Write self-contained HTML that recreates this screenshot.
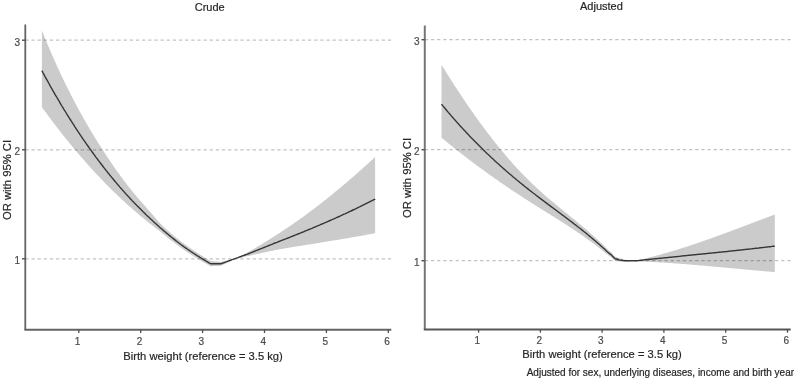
<!DOCTYPE html>
<html><head><meta charset="utf-8"><style>
html,body{margin:0;padding:0;background:#fff;}
body{width:797px;height:380px;position:relative;overflow:hidden;font-family:"Liberation Sans",sans-serif;}
#w{position:absolute;left:0;top:0;width:797px;height:380px;will-change:transform;}
#w div{-webkit-text-stroke:0.2px currentColor;}
svg{position:absolute;left:0;top:0;}
.t{position:absolute;white-space:nowrap;color:#262626;font-size:11px;line-height:12px;}
.yt{position:absolute;width:20px;text-align:right;color:#4a4a4a;font-size:10.0px;line-height:12px;}
.xt{position:absolute;width:20px;text-align:center;color:#4a4a4a;font-size:10.0px;line-height:12px;}
.yl{position:absolute;white-space:nowrap;color:#262626;font-size:11px;line-height:12px;transform-origin:0 0;transform:rotate(-90deg);}
</style></head><body><div id="w">
<svg width="797" height="380" viewBox="0 0 797 380">
<path d="M41.9,30.6 L42.9,33.1 L43.9,35.6 L44.9,38.0 L45.9,40.4 L46.9,42.8 L47.9,45.2 L48.9,47.6 L49.9,49.9 L50.9,52.2 L51.9,54.5 L52.9,56.8 L53.9,59.1 L54.9,61.3 L55.9,63.5 L56.9,65.7 L57.9,67.9 L58.9,70.1 L59.9,72.2 L60.9,74.4 L61.9,76.5 L62.9,78.6 L63.9,80.7 L64.9,82.7 L65.9,84.8 L66.9,86.8 L67.9,88.8 L68.9,90.8 L69.9,92.8 L70.9,94.8 L71.9,96.7 L72.9,98.6 L73.9,100.5 L74.9,102.4 L75.9,104.3 L76.9,106.2 L77.9,108.1 L78.9,109.9 L79.9,111.7 L80.9,113.5 L81.9,115.3 L82.9,117.1 L83.9,118.9 L84.9,120.7 L85.9,122.4 L86.9,124.1 L87.9,125.9 L88.9,127.6 L89.9,129.3 L90.9,130.9 L91.9,132.6 L92.9,134.3 L93.9,135.9 L94.9,137.5 L95.9,139.2 L96.9,140.8 L97.9,142.4 L98.9,144.0 L99.9,145.6 L100.9,147.1 L101.9,148.7 L102.9,150.3 L103.9,151.8 L104.9,153.3 L105.9,154.8 L106.9,156.4 L107.9,157.9 L108.9,159.4 L109.9,160.8 L110.9,162.3 L111.9,163.8 L112.9,165.2 L113.9,166.7 L114.9,168.1 L115.9,169.5 L116.9,170.9 L117.9,172.3 L118.9,173.7 L119.9,175.1 L120.9,176.5 L121.9,177.8 L122.9,179.2 L123.9,180.5 L124.9,181.8 L125.9,183.1 L126.9,184.4 L127.9,185.7 L128.9,187.0 L129.9,188.2 L130.9,189.5 L131.9,190.7 L132.9,191.9 L133.9,193.2 L134.9,194.4 L135.9,195.6 L136.9,196.7 L137.9,197.9 L138.9,199.1 L139.9,200.2 L140.9,201.4 L141.9,202.5 L142.9,203.7 L143.9,204.8 L144.9,206.0 L145.9,207.1 L146.9,208.2 L147.9,209.4 L148.9,210.5 L149.9,211.6 L150.9,212.7 L151.9,213.9 L152.9,215.0 L153.9,216.2 L154.9,217.3 L155.9,218.5 L156.9,219.7 L157.9,220.8 L158.9,222.0 L159.9,223.2 L160.0,223.3 L161.0,224.3 L162.0,225.2 L163.0,226.2 L164.0,227.1 L165.0,228.0 L166.0,229.0 L167.0,229.9 L168.0,230.8 L169.0,231.6 L170.0,232.5 L171.0,233.4 L172.0,234.2 L173.0,235.1 L174.0,235.9 L175.0,236.7 L176.0,237.5 L177.0,238.3 L178.0,239.1 L179.0,239.9 L180.0,240.7 L181.0,241.5 L182.0,242.2 L183.0,242.9 L184.0,243.7 L185.0,244.4 L186.0,245.1 L187.0,245.8 L188.0,246.5 L189.0,247.2 L190.0,247.9 L191.0,248.6 L192.0,249.3 L193.0,249.9 L194.0,250.6 L195.0,251.3 L196.0,251.9 L197.0,252.6 L198.0,253.2 L199.0,253.9 L200.0,254.5 L201.0,255.2 L202.0,255.8 L203.0,256.4 L204.0,257.1 L205.0,257.7 L206.0,258.3 L207.0,258.9 L208.0,259.5 L209.0,260.2 L210.0,260.8 L211.0,261.1 L212.0,261.2 L213.0,261.2 L214.0,261.3 L215.0,261.4 L216.0,261.4 L217.0,261.5 L218.0,261.6 L219.0,261.7 L220.0,261.8 L221.0,261.9 L222.0,261.6 L223.0,261.3 L224.0,261.1 L225.0,260.9 L226.0,260.6 L227.0,260.4 L228.0,260.2 L229.0,260.0 L230.0,259.8 L231.0,259.6 L232.0,259.4 L233.0,259.3 L233.6,259.2 L234.6,258.7 L235.6,258.2 L236.6,257.8 L237.6,257.3 L238.6,256.8 L239.6,256.3 L240.6,255.8 L241.6,255.3 L242.6,254.8 L243.6,254.3 L244.6,253.8 L245.6,253.3 L246.6,252.8 L247.6,252.3 L248.6,251.8 L249.6,251.2 L250.6,250.7 L251.6,250.1 L252.6,249.5 L253.6,249.0 L254.6,248.4 L255.6,247.8 L256.6,247.2 L257.6,246.6 L258.6,246.1 L259.6,245.5 L260.6,244.9 L261.6,244.3 L262.6,243.7 L263.6,243.0 L264.6,242.4 L265.6,241.8 L266.6,241.2 L267.6,240.6 L268.6,239.9 L269.6,239.3 L270.6,238.7 L271.6,238.0 L272.6,237.4 L273.6,236.7 L274.6,236.1 L275.6,235.4 L276.6,234.8 L277.6,234.2 L278.6,233.5 L279.6,232.9 L280.6,232.2 L281.6,231.6 L282.6,230.9 L283.6,230.3 L284.6,229.6 L285.6,229.0 L286.6,228.3 L287.6,227.6 L288.6,226.9 L289.6,226.3 L290.6,225.6 L291.6,224.9 L292.6,224.2 L293.6,223.5 L294.6,222.8 L295.6,222.1 L296.6,221.4 L297.6,220.7 L298.6,220.0 L299.6,219.3 L300.6,218.6 L301.6,217.9 L302.6,217.2 L303.6,216.4 L304.6,215.7 L305.6,215.0 L306.6,214.2 L307.6,213.5 L308.6,212.8 L309.6,212.0 L310.6,211.3 L311.6,210.5 L312.6,209.8 L313.6,209.0 L314.6,208.3 L315.6,207.5 L316.6,206.7 L317.6,206.0 L318.6,205.2 L319.6,204.4 L320.6,203.6 L321.6,202.9 L322.6,202.1 L323.6,201.3 L324.6,200.5 L325.6,199.7 L326.6,198.9 L327.6,198.1 L328.6,197.3 L329.6,196.5 L330.6,195.7 L331.6,194.9 L332.6,194.1 L333.6,193.3 L334.6,192.4 L335.6,191.6 L336.6,190.8 L337.6,190.0 L338.6,189.1 L339.6,188.3 L340.6,187.5 L341.6,186.6 L342.6,185.8 L343.6,184.9 L344.6,184.1 L345.6,183.3 L346.6,182.4 L347.6,181.5 L348.6,180.7 L349.6,179.8 L350.6,179.0 L351.6,178.1 L352.6,177.2 L353.6,176.4 L354.6,175.5 L355.6,174.6 L356.6,173.7 L357.6,172.9 L358.6,172.0 L359.6,171.1 L360.6,170.2 L361.6,169.3 L362.6,168.4 L363.6,167.5 L364.6,166.6 L365.6,165.7 L366.6,164.8 L367.6,163.9 L368.6,163.0 L369.6,162.1 L370.6,161.2 L371.6,160.3 L372.6,159.4 L373.6,158.5 L374.6,157.6 L375.1,157.1 L375.1,233.2 L374.6,233.3 L373.6,233.5 L372.6,233.7 L371.6,233.9 L370.6,234.1 L369.6,234.2 L368.6,234.4 L367.6,234.6 L366.6,234.8 L365.6,235.0 L364.6,235.2 L363.6,235.4 L362.6,235.5 L361.6,235.7 L360.6,235.9 L359.6,236.1 L358.6,236.3 L357.6,236.4 L356.6,236.6 L355.6,236.8 L354.6,237.0 L353.6,237.1 L352.6,237.3 L351.6,237.5 L350.6,237.6 L349.6,237.8 L348.6,238.0 L347.6,238.2 L346.6,238.3 L345.6,238.5 L344.6,238.7 L343.6,238.8 L342.6,239.0 L341.6,239.2 L340.6,239.3 L339.6,239.5 L338.6,239.7 L337.6,239.8 L336.6,240.0 L335.6,240.2 L334.6,240.3 L333.6,240.5 L332.6,240.6 L331.6,240.8 L330.6,241.0 L329.6,241.1 L328.6,241.3 L327.6,241.5 L326.6,241.6 L325.6,241.8 L324.6,241.9 L323.6,242.1 L322.6,242.3 L321.6,242.4 L320.6,242.6 L319.6,242.7 L318.6,242.9 L317.6,243.1 L316.6,243.2 L315.6,243.4 L314.6,243.6 L313.6,243.7 L312.6,243.9 L311.6,244.0 L310.6,244.2 L309.6,244.4 L308.6,244.5 L307.6,244.7 L306.6,244.8 L305.6,245.0 L304.6,245.2 L303.6,245.3 L302.6,245.5 L301.6,245.7 L300.6,245.8 L299.6,246.0 L298.6,246.1 L297.6,246.3 L296.6,246.5 L295.6,246.6 L294.6,246.8 L293.6,247.0 L292.6,247.1 L291.6,247.3 L290.6,247.5 L289.6,247.6 L288.6,247.8 L287.6,248.0 L286.6,248.1 L285.6,248.3 L284.6,248.5 L283.6,248.7 L282.6,248.8 L281.6,249.0 L280.6,249.2 L279.6,249.3 L278.6,249.5 L277.6,249.7 L276.6,249.9 L275.6,250.1 L274.6,250.2 L273.6,250.5 L272.6,250.7 L271.6,250.9 L270.6,251.1 L269.6,251.3 L268.6,251.5 L267.6,251.7 L266.6,251.9 L265.6,252.1 L264.6,252.4 L263.6,252.6 L262.6,252.8 L261.6,253.0 L260.6,253.2 L259.6,253.4 L258.6,253.7 L257.6,253.9 L256.6,254.1 L255.6,254.3 L254.6,254.6 L253.6,254.8 L252.6,255.0 L251.6,255.3 L250.6,255.5 L249.6,255.7 L248.6,255.9 L247.6,256.1 L246.6,256.3 L245.6,256.5 L244.6,256.8 L243.6,257.0 L242.6,257.2 L241.6,257.4 L240.6,257.6 L239.6,257.8 L238.6,258.0 L237.6,258.3 L236.6,258.5 L235.6,258.7 L234.6,258.9 L233.6,259.2 L233.0,259.5 L232.0,260.1 L231.0,260.6 L230.0,261.2 L229.0,261.8 L228.0,262.3 L227.0,262.8 L226.0,263.4 L225.0,263.9 L224.0,264.4 L223.0,264.8 L222.0,265.3 L221.0,265.8 L220.0,265.8 L219.0,265.9 L218.0,265.9 L217.0,266.0 L216.0,266.0 L215.0,266.1 L214.0,266.1 L213.0,266.1 L212.0,266.2 L211.0,266.2 L210.0,265.9 L209.0,265.3 L208.0,264.7 L207.0,264.2 L206.0,263.6 L205.0,263.0 L204.0,262.5 L203.0,261.9 L202.0,261.3 L201.0,260.7 L200.0,260.1 L199.0,259.5 L198.0,258.9 L197.0,258.3 L196.0,257.7 L195.0,257.0 L194.0,256.4 L193.0,255.8 L192.0,255.1 L191.0,254.5 L190.0,253.8 L189.0,253.2 L188.0,252.5 L187.0,251.9 L186.0,251.2 L185.0,250.5 L184.0,249.8 L183.0,249.1 L182.0,248.4 L181.0,247.7 L180.0,247.0 L179.0,246.3 L178.0,245.6 L177.0,244.8 L176.0,244.1 L175.0,243.3 L174.0,242.6 L173.0,241.8 L172.0,241.0 L171.0,240.2 L170.0,239.5 L169.0,238.7 L168.0,237.9 L167.0,237.1 L166.0,236.3 L165.0,235.4 L164.0,234.6 L163.0,233.8 L162.0,233.0 L161.0,232.1 L160.0,231.3 L159.9,231.2 L158.9,230.5 L157.9,229.7 L156.9,228.9 L155.9,228.2 L154.9,227.4 L153.9,226.6 L152.9,225.8 L151.9,225.0 L150.9,224.2 L149.9,223.5 L148.9,222.7 L147.9,221.9 L146.9,221.1 L145.9,220.3 L144.9,219.5 L143.9,218.7 L142.9,217.8 L141.9,217.0 L140.9,216.2 L139.9,215.4 L138.9,214.5 L137.9,213.7 L136.9,212.8 L135.9,212.0 L134.9,211.1 L133.9,210.3 L132.9,209.4 L131.9,208.5 L130.9,207.6 L129.9,206.8 L128.9,205.9 L127.9,205.0 L126.9,204.1 L125.9,203.2 L124.9,202.2 L123.9,201.3 L122.9,200.4 L121.9,199.5 L120.9,198.5 L119.9,197.6 L118.9,196.7 L117.9,195.7 L116.9,194.8 L115.9,193.8 L114.9,192.8 L113.9,191.9 L112.9,190.9 L111.9,189.9 L110.9,188.9 L109.9,187.9 L108.9,186.9 L107.9,185.9 L106.9,184.9 L105.9,183.9 L104.9,182.9 L103.9,181.8 L102.9,180.8 L101.9,179.8 L100.9,178.7 L99.9,177.7 L98.9,176.6 L97.9,175.6 L96.9,174.5 L95.9,173.4 L94.9,172.4 L93.9,171.3 L92.9,170.2 L91.9,169.1 L90.9,168.0 L89.9,166.9 L88.9,165.8 L87.9,164.7 L86.9,163.5 L85.9,162.4 L84.9,161.3 L83.9,160.1 L82.9,159.0 L81.9,157.8 L80.9,156.7 L79.9,155.5 L78.9,154.4 L77.9,153.2 L76.9,152.0 L75.9,150.8 L74.9,149.6 L73.9,148.4 L72.9,147.2 L71.9,146.0 L70.9,144.8 L69.9,143.6 L68.9,142.4 L67.9,141.1 L66.9,139.9 L65.9,138.7 L64.9,137.4 L63.9,136.2 L62.9,134.9 L61.9,133.6 L60.9,132.4 L59.9,131.1 L58.9,129.8 L57.9,128.5 L56.9,127.2 L55.9,125.9 L54.9,124.6 L53.9,123.3 L52.9,122.0 L51.9,120.7 L50.9,119.3 L49.9,118.0 L48.9,116.7 L47.9,115.3 L46.9,114.0 L45.9,112.6 L44.9,111.2 L43.9,109.9 L42.9,108.5 L41.9,107.1 Z" fill="#cbcbcb" stroke="none"/>
<line x1="25.3" y1="258.8" x2="391.3" y2="258.8" stroke="rgba(0,0,0,0.24)" stroke-width="1.25" stroke-dasharray="3.3 2.845"/>
<line x1="25.3" y1="149.8" x2="391.3" y2="149.8" stroke="rgba(0,0,0,0.24)" stroke-width="1.25" stroke-dasharray="3.3 2.845"/>
<line x1="25.3" y1="40.2" x2="391.3" y2="40.2" stroke="rgba(0,0,0,0.24)" stroke-width="1.25" stroke-dasharray="3.3 2.845"/>
<polyline points="41.9,70.7 42.9,72.6 43.9,74.4 44.9,76.3 45.9,78.1 46.9,79.9 47.9,81.7 48.9,83.5 49.9,85.3 50.9,87.1 51.9,88.8 52.9,90.6 53.9,92.3 54.9,94.1 55.9,95.8 56.9,97.5 57.9,99.2 58.9,100.9 59.9,102.6 60.9,104.3 61.9,106.0 62.9,107.6 63.9,109.3 64.9,110.9 65.9,112.5 66.9,114.2 67.9,115.8 68.9,117.4 69.9,119.0 70.9,120.5 71.9,122.1 72.9,123.7 73.9,125.2 74.9,126.8 75.9,128.3 76.9,129.8 77.9,131.4 78.9,132.9 79.9,134.4 80.9,135.8 81.9,137.3 82.9,138.8 83.9,140.3 84.9,141.7 85.9,143.2 86.9,144.6 87.9,146.0 88.9,147.4 89.9,148.8 90.9,150.2 91.9,151.6 92.9,153.0 93.9,154.4 94.9,155.7 95.9,157.1 96.9,158.4 97.9,159.8 98.9,161.1 99.9,162.4 100.9,163.7 101.9,165.0 102.9,166.3 103.9,167.6 104.9,168.9 105.9,170.2 106.9,171.4 107.9,172.7 108.9,173.9 109.9,175.2 110.9,176.4 111.9,177.6 112.9,178.8 113.9,180.0 114.9,181.2 115.9,182.4 116.9,183.6 117.9,184.8 118.9,185.9 119.9,187.1 120.9,188.2 121.9,189.4 122.9,190.5 123.9,191.6 124.9,192.8 125.9,193.9 126.9,195.0 127.9,196.1 128.9,197.1 129.9,198.2 130.9,199.3 131.9,200.4 132.9,201.4 133.9,202.5 134.9,203.5 135.9,204.5 136.9,205.6 137.9,206.6 138.9,207.6 139.9,208.6 140.9,209.6 141.9,210.6 142.9,211.6 143.9,212.5 144.9,213.5 145.9,214.5 146.9,215.4 147.9,216.4 148.9,217.3 149.9,218.2 150.9,219.2 151.9,220.1 152.9,221.1 153.9,222.0 154.9,222.9 155.9,223.8 156.9,224.7 157.9,225.6 158.9,226.5 159.9,227.4 160.9,228.3 161.9,229.1 162.9,230.0 163.9,230.9 164.9,231.7 165.9,232.6 166.9,233.4 167.9,234.2 168.9,235.1 169.9,235.9 170.9,236.7 171.9,237.5 172.9,238.3 173.9,239.1 174.9,239.9 175.9,240.7 176.9,241.5 177.9,242.2 178.9,243.0 179.9,243.8 180.9,244.5 181.9,245.2 182.9,245.9 183.9,246.7 184.9,247.4 185.9,248.1 186.9,248.8 187.9,249.5 188.9,250.2 189.9,250.8 190.9,251.5 191.9,252.2 192.9,252.9 193.9,253.5 194.9,254.2 195.9,254.8 196.9,255.5 197.9,256.1 198.9,256.7 199.9,257.4 200.9,258.0 201.9,258.6 202.9,259.2 203.9,259.8 204.9,260.4 205.9,261.0 206.9,261.6 207.9,262.2 208.9,262.8 209.9,263.4 210.6,263.7 211.6,263.7 212.6,263.7 213.6,263.7 214.6,263.7 215.6,263.8 216.6,263.8 217.6,263.8 218.6,263.8 219.6,263.8 220.6,263.8 221.0,263.8 222.0,263.4 223.0,263.0 224.0,262.7 225.0,262.3 226.0,261.9 227.0,261.6 228.0,261.2 229.0,260.8 230.0,260.5 231.0,260.1 232.0,259.7 233.0,259.4 234.0,259.0 235.0,258.7 236.0,258.3 237.0,257.9 238.0,257.6 239.0,257.2 240.0,256.8 241.0,256.5 242.0,256.1 243.0,255.7 244.0,255.4 245.0,255.0 246.0,254.6 247.0,254.3 248.0,253.9 249.0,253.5 250.0,253.1 251.0,252.7 252.0,252.3 253.0,251.9 254.0,251.5 255.0,251.1 256.0,250.7 257.0,250.3 258.0,249.9 259.0,249.5 260.0,249.1 261.0,248.7 262.0,248.3 263.0,247.9 264.0,247.5 265.0,247.1 266.0,246.7 267.0,246.3 268.0,245.9 269.0,245.5 270.0,245.1 271.0,244.7 272.0,244.3 273.0,243.9 274.0,243.4 275.0,243.0 276.0,242.6 277.0,242.3 278.0,241.9 279.0,241.5 280.0,241.1 281.0,240.7 282.0,240.3 283.0,239.9 284.0,239.5 285.0,239.2 286.0,238.8 287.0,238.4 288.0,238.0 289.0,237.6 290.0,237.2 291.0,236.8 292.0,236.4 293.0,236.0 294.0,235.6 295.0,235.2 296.0,234.8 297.0,234.4 298.0,234.0 299.0,233.6 300.0,233.2 301.0,232.8 302.0,232.4 303.0,232.0 304.0,231.6 305.0,231.1 306.0,230.7 307.0,230.3 308.0,229.9 309.0,229.5 310.0,229.1 311.0,228.7 312.0,228.3 313.0,227.8 314.0,227.4 315.0,227.0 316.0,226.6 317.0,226.1 318.0,225.7 319.0,225.3 320.0,224.9 321.0,224.4 322.0,224.0 323.0,223.6 324.0,223.2 325.0,222.7 326.0,222.3 327.0,221.9 328.0,221.4 329.0,221.0 330.0,220.5 331.0,220.1 332.0,219.7 333.0,219.2 334.0,218.8 335.0,218.3 336.0,217.9 337.0,217.4 338.0,217.0 339.0,216.5 340.0,216.1 341.0,215.6 342.0,215.2 343.0,214.7 344.0,214.2 345.0,213.8 346.0,213.3 347.0,212.8 348.0,212.4 349.0,211.9 350.0,211.4 351.0,211.0 352.0,210.5 353.0,210.0 354.0,209.5 355.0,209.1 356.0,208.6 357.0,208.1 358.0,207.6 359.0,207.1 360.0,206.7 361.0,206.2 362.0,205.7 363.0,205.2 364.0,204.7 365.0,204.2 366.0,203.7 367.0,203.2 368.0,202.7 369.0,202.2 370.0,201.7 371.0,201.2 372.0,200.7 373.0,200.2 374.0,199.7 375.0,199.2 375.1,199.1" fill="none" stroke="#363636" stroke-width="1.4" stroke-linejoin="round"/>
<line x1="25.3" y1="24.4" x2="25.3" y2="329.8" stroke="#636363" stroke-width="1.8"/>
<line x1="24.400000000000002" y1="329.8" x2="391.3" y2="329.8" stroke="#646464" stroke-width="1.9"/>
<line x1="22.0" y1="258.8" x2="25.3" y2="258.8" stroke="#4e4e4e" stroke-width="1.4"/>
<line x1="22.0" y1="149.8" x2="25.3" y2="149.8" stroke="#4e4e4e" stroke-width="1.4"/>
<line x1="22.0" y1="40.2" x2="25.3" y2="40.2" stroke="#4e4e4e" stroke-width="1.4"/>
<line x1="78.8" y1="329.8" x2="78.8" y2="333.0" stroke="#4e4e4e" stroke-width="1.3"/>
<line x1="140.7" y1="329.8" x2="140.7" y2="333.0" stroke="#4e4e4e" stroke-width="1.3"/>
<line x1="202.6" y1="329.8" x2="202.6" y2="333.0" stroke="#4e4e4e" stroke-width="1.3"/>
<line x1="264.5" y1="329.8" x2="264.5" y2="333.0" stroke="#4e4e4e" stroke-width="1.3"/>
<line x1="326.4" y1="329.8" x2="326.4" y2="333.0" stroke="#4e4e4e" stroke-width="1.3"/>
<line x1="388.3" y1="329.8" x2="388.3" y2="333.0" stroke="#4e4e4e" stroke-width="1.3"/>
<path d="M441.5,64.8 L442.5,66.4 L443.5,68.0 L444.5,69.6 L445.5,71.2 L446.5,72.8 L447.5,74.4 L448.5,76.0 L449.5,77.6 L450.5,79.2 L451.5,80.7 L452.5,82.3 L453.5,83.8 L454.5,85.4 L455.5,86.9 L456.5,88.5 L457.5,90.0 L458.5,91.5 L459.5,93.0 L460.5,94.5 L461.5,96.0 L462.5,97.5 L463.5,99.0 L464.5,100.5 L465.5,102.0 L466.5,103.4 L467.5,104.9 L468.5,106.4 L469.5,107.8 L470.5,109.3 L471.5,110.7 L472.5,112.1 L473.5,113.5 L474.5,115.0 L475.5,116.4 L476.5,117.8 L477.5,119.2 L478.5,120.6 L479.5,121.9 L480.5,123.3 L481.5,124.7 L482.5,126.0 L483.5,127.4 L484.5,128.7 L485.5,130.1 L486.5,131.4 L487.5,132.7 L488.5,134.0 L489.5,135.3 L490.5,136.6 L491.5,137.9 L492.5,139.2 L493.5,140.5 L494.5,141.8 L495.5,143.0 L496.5,144.3 L497.5,145.5 L498.5,146.8 L499.5,148.0 L500.5,149.2 L501.5,150.4 L502.5,151.6 L503.5,152.8 L504.5,154.0 L505.5,155.2 L506.5,156.4 L507.5,157.5 L508.5,158.7 L509.5,159.9 L510.5,161.0 L511.5,162.1 L512.5,163.3 L513.5,164.4 L514.5,165.5 L515.5,166.6 L516.5,167.7 L517.5,168.8 L518.5,169.8 L519.5,170.9 L520.5,172.0 L521.5,173.0 L522.5,174.1 L523.5,175.1 L524.5,176.1 L525.5,177.1 L526.5,178.1 L527.5,179.1 L528.5,180.1 L529.5,181.1 L530.5,182.1 L531.5,183.0 L532.5,184.0 L533.5,185.0 L534.5,185.9 L535.5,186.8 L536.5,187.8 L537.5,188.7 L538.5,189.6 L539.5,190.5 L540.5,191.4 L541.5,192.3 L542.5,193.2 L543.5,194.0 L544.5,194.9 L545.5,195.8 L546.5,196.7 L547.5,197.5 L548.5,198.4 L549.5,199.2 L550.5,200.1 L551.5,200.9 L552.5,201.8 L553.5,202.6 L554.5,203.4 L555.5,204.3 L556.5,205.1 L557.5,205.9 L558.5,206.7 L559.5,207.6 L560.5,208.4 L561.5,209.2 L562.5,210.0 L563.5,210.8 L564.5,211.7 L565.5,212.5 L566.5,213.3 L567.5,214.1 L568.5,214.9 L569.5,215.7 L570.5,216.5 L571.5,217.4 L572.5,218.2 L573.5,219.0 L574.5,219.8 L575.5,220.6 L576.5,221.5 L577.5,222.3 L578.5,223.1 L579.5,223.9 L580.5,224.8 L581.5,225.6 L582.5,226.5 L583.5,227.3 L584.5,228.1 L585.5,229.0 L586.5,229.8 L587.5,230.7 L588.5,231.6 L589.5,232.4 L590.5,233.3 L591.5,234.2 L592.5,235.1 L593.5,236.0 L594.5,236.9 L595.5,237.8 L596.5,238.7 L597.5,239.6 L598.5,240.5 L599.5,241.5 L600.5,242.4 L601.5,243.3 L602.5,244.3 L603.5,245.3 L604.5,246.2 L605.5,247.2 L606.5,248.2 L607.5,249.2 L608.5,250.2 L609.5,251.0 L610.5,251.8 L611.5,252.7 L612.5,253.8 L613.5,255.0 L614.5,256.1 L615.5,256.7 L616.5,257.0 L617.5,257.4 L618.5,257.9 L619.5,258.3 L620.5,258.6 L621.5,258.8 L622.5,259.0 L623.5,259.3 L624.5,259.5 L625.5,259.7 L626.5,259.9 L627.5,260.0 L628.5,260.2 L629.5,260.3 L630.5,260.4 L631.5,260.6 L632.5,260.7 L633.0,260.8 L634.0,260.7 L635.0,260.6 L636.0,260.5 L637.0,260.3 L638.0,260.1 L639.0,259.9 L640.0,259.6 L641.0,259.4 L642.0,259.2 L643.0,258.9 L644.0,258.7 L645.0,258.5 L646.0,258.2 L647.0,258.0 L648.0,257.8 L649.0,257.5 L650.0,257.3 L651.0,257.0 L652.0,256.8 L653.0,256.5 L654.0,256.2 L655.0,256.0 L656.0,255.7 L657.0,255.5 L658.0,255.2 L659.0,254.9 L660.0,254.7 L661.0,254.4 L662.0,254.1 L663.0,253.8 L664.0,253.5 L665.0,253.3 L666.0,253.0 L667.0,252.7 L668.0,252.4 L669.0,252.1 L670.0,251.8 L671.0,251.5 L672.0,251.2 L673.0,250.9 L674.0,250.6 L675.0,250.3 L676.0,250.0 L677.0,249.7 L678.0,249.4 L679.0,249.1 L680.0,248.8 L681.0,248.5 L682.0,248.1 L683.0,247.8 L684.0,247.5 L685.0,247.2 L686.0,246.9 L687.0,246.5 L688.0,246.2 L689.0,245.9 L690.0,245.5 L691.0,245.2 L692.0,244.9 L693.0,244.5 L694.0,244.2 L695.0,243.9 L696.0,243.5 L697.0,243.2 L698.0,242.9 L699.0,242.5 L700.0,242.2 L701.0,241.8 L702.0,241.5 L703.0,241.1 L704.0,240.8 L705.0,240.4 L706.0,240.1 L707.0,239.7 L708.0,239.4 L709.0,239.0 L710.0,238.7 L711.0,238.3 L712.0,238.0 L713.0,237.6 L714.0,237.2 L715.0,236.9 L716.0,236.5 L717.0,236.1 L718.0,235.8 L719.0,235.4 L720.0,235.1 L721.0,234.7 L722.0,234.3 L723.0,234.0 L724.0,233.6 L725.0,233.2 L726.0,232.9 L727.0,232.5 L728.0,232.1 L729.0,231.7 L730.0,231.4 L731.0,231.0 L732.0,230.6 L733.0,230.2 L734.0,229.9 L735.0,229.5 L736.0,229.1 L737.0,228.7 L738.0,228.4 L739.0,228.0 L740.0,227.6 L741.0,227.2 L742.0,226.9 L743.0,226.5 L744.0,226.1 L745.0,225.7 L746.0,225.4 L747.0,225.0 L748.0,224.6 L749.0,224.2 L750.0,223.8 L751.0,223.5 L752.0,223.1 L753.0,222.7 L754.0,222.3 L755.0,222.0 L756.0,221.6 L757.0,221.2 L758.0,220.8 L759.0,220.4 L760.0,220.1 L761.0,219.7 L762.0,219.3 L763.0,218.9 L764.0,218.6 L765.0,218.2 L766.0,217.8 L767.0,217.4 L768.0,217.0 L769.0,216.7 L770.0,216.3 L771.0,215.9 L772.0,215.5 L773.0,215.2 L774.0,214.8 L774.8,214.5 L774.8,272.1 L774.0,272.0 L773.0,272.0 L772.0,271.9 L771.0,271.8 L770.0,271.7 L769.0,271.6 L768.0,271.5 L767.0,271.4 L766.0,271.4 L765.0,271.3 L764.0,271.2 L763.0,271.1 L762.0,271.0 L761.0,270.9 L760.0,270.8 L759.0,270.7 L758.0,270.7 L757.0,270.6 L756.0,270.5 L755.0,270.4 L754.0,270.3 L753.0,270.2 L752.0,270.1 L751.0,270.0 L750.0,269.9 L749.0,269.8 L748.0,269.8 L747.0,269.7 L746.0,269.6 L745.0,269.5 L744.0,269.4 L743.0,269.3 L742.0,269.2 L741.0,269.1 L740.0,269.0 L739.0,268.9 L738.0,268.8 L737.0,268.7 L736.0,268.6 L735.0,268.5 L734.0,268.5 L733.0,268.4 L732.0,268.3 L731.0,268.2 L730.0,268.1 L729.0,268.0 L728.0,267.9 L727.0,267.8 L726.0,267.7 L725.0,267.6 L724.0,267.5 L723.0,267.4 L722.0,267.3 L721.0,267.2 L720.0,267.2 L719.0,267.1 L718.0,267.0 L717.0,266.9 L716.0,266.8 L715.0,266.7 L714.0,266.6 L713.0,266.5 L712.0,266.4 L711.0,266.3 L710.0,266.2 L709.0,266.2 L708.0,266.1 L707.0,266.0 L706.0,265.9 L705.0,265.8 L704.0,265.7 L703.0,265.6 L702.0,265.5 L701.0,265.5 L700.0,265.4 L699.0,265.3 L698.0,265.2 L697.0,265.1 L696.0,265.0 L695.0,264.9 L694.0,264.9 L693.0,264.8 L692.0,264.7 L691.0,264.6 L690.0,264.5 L689.0,264.4 L688.0,264.4 L687.0,264.3 L686.0,264.2 L685.0,264.1 L684.0,264.0 L683.0,264.0 L682.0,263.9 L681.0,263.8 L680.0,263.7 L679.0,263.7 L678.0,263.6 L677.0,263.5 L676.0,263.4 L675.0,263.4 L674.0,263.3 L673.0,263.2 L672.0,263.2 L671.0,263.1 L670.0,263.0 L669.0,262.9 L668.0,262.9 L667.0,262.8 L666.0,262.7 L665.0,262.7 L664.0,262.6 L663.0,262.6 L662.0,262.5 L661.0,262.4 L660.0,262.4 L659.0,262.3 L658.0,262.3 L657.0,262.2 L656.0,262.1 L655.0,262.1 L654.0,262.0 L653.0,262.0 L652.0,261.9 L651.0,261.9 L650.0,261.8 L649.0,261.8 L648.0,261.7 L647.0,261.7 L646.0,261.6 L645.0,261.6 L644.0,261.5 L643.0,261.5 L642.0,261.4 L641.0,261.4 L640.0,261.4 L639.0,261.3 L638.0,261.3 L637.0,261.3 L636.0,261.2 L635.0,261.1 L634.0,260.9 L633.0,260.8 L632.5,260.9 L631.5,261.0 L630.5,261.1 L629.5,261.2 L628.5,261.3 L627.5,261.4 L626.5,261.6 L625.5,261.6 L624.5,261.6 L623.5,261.6 L622.5,261.6 L621.5,261.6 L620.5,261.6 L619.5,261.5 L618.5,261.3 L617.5,261.0 L616.5,260.8 L615.5,260.7 L614.5,260.3 L613.5,259.4 L612.5,258.4 L611.5,257.5 L610.5,256.7 L609.5,256.1 L608.5,255.5 L607.5,254.6 L606.5,253.8 L605.5,253.0 L604.5,252.2 L603.5,251.4 L602.5,250.6 L601.5,249.8 L600.5,249.0 L599.5,248.2 L598.5,247.4 L597.5,246.6 L596.5,245.9 L595.5,245.1 L594.5,244.3 L593.5,243.6 L592.5,242.8 L591.5,242.1 L590.5,241.4 L589.5,240.6 L588.5,239.9 L587.5,239.2 L586.5,238.5 L585.5,237.8 L584.5,237.0 L583.5,236.3 L582.5,235.6 L581.5,234.9 L580.5,234.2 L579.5,233.6 L578.5,232.9 L577.5,232.2 L576.5,231.5 L575.5,230.8 L574.5,230.2 L573.5,229.5 L572.5,228.8 L571.5,228.2 L570.5,227.5 L569.5,226.9 L568.5,226.2 L567.5,225.6 L566.5,224.9 L565.5,224.3 L564.5,223.6 L563.5,223.0 L562.5,222.3 L561.5,221.7 L560.5,221.1 L559.5,220.4 L558.5,219.8 L557.5,219.2 L556.5,218.5 L555.5,217.9 L554.5,217.3 L553.5,216.6 L552.5,216.0 L551.5,215.4 L550.5,214.8 L549.5,214.1 L548.5,213.5 L547.5,212.9 L546.5,212.3 L545.5,211.7 L544.5,211.0 L543.5,210.4 L542.5,209.8 L541.5,209.2 L540.5,208.5 L539.5,207.9 L538.5,207.3 L537.5,206.7 L536.5,206.0 L535.5,205.4 L534.5,204.8 L533.5,204.1 L532.5,203.5 L531.5,202.9 L530.5,202.2 L529.5,201.6 L528.5,201.0 L527.5,200.3 L526.5,199.7 L525.5,199.0 L524.5,198.4 L523.5,197.7 L522.5,197.1 L521.5,196.5 L520.5,195.8 L519.5,195.1 L518.5,194.5 L517.5,193.8 L516.5,193.2 L515.5,192.5 L514.5,191.9 L513.5,191.2 L512.5,190.5 L511.5,189.9 L510.5,189.2 L509.5,188.5 L508.5,187.8 L507.5,187.2 L506.5,186.5 L505.5,185.8 L504.5,185.1 L503.5,184.4 L502.5,183.8 L501.5,183.1 L500.5,182.4 L499.5,181.7 L498.5,181.0 L497.5,180.3 L496.5,179.6 L495.5,178.9 L494.5,178.2 L493.5,177.5 L492.5,176.8 L491.5,176.1 L490.5,175.4 L489.5,174.7 L488.5,173.9 L487.5,173.2 L486.5,172.5 L485.5,171.8 L484.5,171.1 L483.5,170.3 L482.5,169.6 L481.5,168.9 L480.5,168.1 L479.5,167.4 L478.5,166.7 L477.5,165.9 L476.5,165.2 L475.5,164.4 L474.5,163.7 L473.5,162.9 L472.5,162.2 L471.5,161.4 L470.5,160.7 L469.5,159.9 L468.5,159.2 L467.5,158.4 L466.5,157.6 L465.5,156.9 L464.5,156.1 L463.5,155.3 L462.5,154.5 L461.5,153.8 L460.5,153.0 L459.5,152.2 L458.5,151.4 L457.5,150.6 L456.5,149.8 L455.5,149.0 L454.5,148.2 L453.5,147.4 L452.5,146.6 L451.5,145.8 L450.5,145.0 L449.5,144.2 L448.5,143.4 L447.5,142.6 L446.5,141.7 L445.5,140.9 L444.5,140.1 L443.5,139.3 L442.5,138.4 L441.5,137.6 Z" fill="#cbcbcb" stroke="none"/>
<line x1="424.8" y1="260.7" x2="790.7" y2="260.7" stroke="rgba(0,0,0,0.24)" stroke-width="1.25" stroke-dasharray="3.3 2.845"/>
<line x1="424.8" y1="149.7" x2="790.7" y2="149.7" stroke="rgba(0,0,0,0.24)" stroke-width="1.25" stroke-dasharray="3.3 2.845"/>
<line x1="424.8" y1="39.7" x2="790.7" y2="39.7" stroke="rgba(0,0,0,0.24)" stroke-width="1.25" stroke-dasharray="3.3 2.845"/>
<polyline points="441.5,104.2 442.5,105.4 443.5,106.6 444.5,107.8 445.5,109.0 446.5,110.2 447.5,111.4 448.5,112.6 449.5,113.7 450.5,114.9 451.5,116.1 452.5,117.2 453.5,118.4 454.5,119.5 455.5,120.6 456.5,121.8 457.5,122.9 458.5,124.0 459.5,125.1 460.5,126.2 461.5,127.3 462.5,128.4 463.5,129.5 464.5,130.6 465.5,131.6 466.5,132.7 467.5,133.8 468.5,134.8 469.5,135.9 470.5,136.9 471.5,138.0 472.5,139.0 473.5,140.0 474.5,141.1 475.5,142.1 476.5,143.1 477.5,144.1 478.5,145.1 479.5,146.1 480.5,147.1 481.5,148.1 482.5,149.0 483.5,150.0 484.5,151.0 485.5,152.0 486.5,152.9 487.5,153.9 488.5,154.8 489.5,155.8 490.5,156.7 491.5,157.7 492.5,158.6 493.5,159.5 494.5,160.4 495.5,161.4 496.5,162.3 497.5,163.2 498.5,164.1 499.5,165.0 500.5,165.9 501.5,166.8 502.5,167.7 503.5,168.6 504.5,169.4 505.5,170.3 506.5,171.2 507.5,172.0 508.5,172.9 509.5,173.8 510.5,174.6 511.5,175.5 512.5,176.3 513.5,177.2 514.5,178.0 515.5,178.8 516.5,179.7 517.5,180.5 518.5,181.3 519.5,182.1 520.5,183.0 521.5,183.8 522.5,184.6 523.5,185.4 524.5,186.2 525.5,187.0 526.5,187.8 527.5,188.6 528.5,189.4 529.5,190.2 530.5,190.9 531.5,191.7 532.5,192.5 533.5,193.3 534.5,194.0 535.5,194.8 536.5,195.6 537.5,196.3 538.5,197.1 539.5,197.9 540.5,198.6 541.5,199.4 542.5,200.1 543.5,200.9 544.5,201.6 545.5,202.4 546.5,203.1 547.5,203.9 548.5,204.6 549.5,205.4 550.5,206.1 551.5,206.9 552.5,207.6 553.5,208.3 554.5,209.1 555.5,209.8 556.5,210.6 557.5,211.3 558.5,212.1 559.5,212.8 560.5,213.6 561.5,214.3 562.5,215.1 563.5,215.8 564.5,216.6 565.5,217.3 566.5,218.1 567.5,218.8 568.5,219.6 569.5,220.3 570.5,221.1 571.5,221.8 572.5,222.6 573.5,223.4 574.5,224.2 575.5,224.9 576.5,225.7 577.5,226.5 578.5,227.3 579.5,228.0 580.5,228.8 581.5,229.6 582.5,230.4 583.5,231.2 584.5,232.0 585.5,232.8 586.5,233.6 587.5,234.5 588.5,235.3 589.5,236.1 590.5,236.9 591.5,237.8 592.5,238.6 593.5,239.4 594.5,240.3 595.5,241.1 596.5,242.0 597.5,242.9 598.5,243.7 599.5,244.6 600.5,245.5 601.5,246.4 602.5,247.3 603.5,248.2 604.5,249.1 605.5,250.0 606.5,250.9 607.5,251.9 608.5,252.8 608.9,253.2 609.9,253.8 610.9,254.6 611.9,255.5 612.9,256.6 613.0,256.7 614.0,257.8 615.0,258.6 616.0,259.0 617.0,259.0 618.0,259.5 619.0,259.9 620.0,260.1 621.0,260.2 622.0,260.3 623.0,260.5 624.0,260.6 625.0,260.7 626.0,260.8 627.0,260.8 628.0,260.8 629.0,260.8 630.0,260.8 631.0,260.8 632.0,260.8 633.0,260.8 634.0,260.8 635.0,260.8 636.0,260.8 637.0,260.7 638.0,260.6 639.0,260.5 640.0,260.4 641.0,260.3 642.0,260.2 643.0,260.1 644.0,259.9 645.0,259.8 646.0,259.7 647.0,259.6 648.0,259.5 649.0,259.4 650.0,259.3 651.0,259.2 652.0,259.1 653.0,259.0 654.0,258.9 655.0,258.8 656.0,258.7 657.0,258.6 658.0,258.5 659.0,258.4 660.0,258.3 661.0,258.2 662.0,258.1 663.0,258.0 664.0,257.9 665.0,257.8 666.0,257.7 667.0,257.6 668.0,257.5 669.0,257.4 670.0,257.3 671.0,257.2 672.0,257.1 673.0,257.0 674.0,256.9 675.0,256.8 676.0,256.7 677.0,256.6 678.0,256.5 679.0,256.4 680.0,256.3 681.0,256.1 682.0,256.0 683.0,255.9 684.0,255.8 685.0,255.7 686.0,255.6 687.0,255.5 688.0,255.4 689.0,255.3 690.0,255.2 691.0,255.1 692.0,255.0 693.0,254.9 694.0,254.8 695.0,254.7 696.0,254.6 697.0,254.5 698.0,254.4 699.0,254.3 700.0,254.2 701.0,254.1 702.0,254.0 703.0,253.9 704.0,253.8 705.0,253.7 706.0,253.6 707.0,253.5 708.0,253.4 709.0,253.3 710.0,253.2 711.0,253.1 712.0,253.0 713.0,252.9 714.0,252.8 715.0,252.7 716.0,252.6 717.0,252.5 718.0,252.4 719.0,252.3 720.0,252.2 721.0,252.1 722.0,252.0 723.0,251.9 724.0,251.8 725.0,251.7 726.0,251.6 727.0,251.5 728.0,251.4 729.0,251.2 730.0,251.1 731.0,251.0 732.0,250.9 733.0,250.8 734.0,250.7 735.0,250.6 736.0,250.5 737.0,250.4 738.0,250.3 739.0,250.2 740.0,250.1 741.0,250.0 742.0,249.9 743.0,249.7 744.0,249.6 745.0,249.5 746.0,249.4 747.0,249.3 748.0,249.2 749.0,249.1 750.0,249.0 751.0,248.9 752.0,248.8 753.0,248.6 754.0,248.5 755.0,248.4 756.0,248.3 757.0,248.2 758.0,248.1 759.0,248.0 760.0,247.8 761.0,247.7 762.0,247.6 763.0,247.5 764.0,247.4 765.0,247.3 766.0,247.1 767.0,247.0 768.0,246.9 769.0,246.8 770.0,246.7 771.0,246.6 772.0,246.4 773.0,246.3 774.0,246.2 774.8,246.1" fill="none" stroke="#363636" stroke-width="1.4" stroke-linejoin="round"/>
<line x1="424.8" y1="25.5" x2="424.8" y2="329.5" stroke="#767676" stroke-width="2.0"/>
<line x1="423.8" y1="329.5" x2="790.7" y2="329.5" stroke="#575757" stroke-width="1.8"/>
<line x1="421.5" y1="260.7" x2="424.8" y2="260.7" stroke="#4e4e4e" stroke-width="1.4"/>
<line x1="421.5" y1="149.7" x2="424.8" y2="149.7" stroke="#4e4e4e" stroke-width="1.4"/>
<line x1="421.5" y1="39.7" x2="424.8" y2="39.7" stroke="#4e4e4e" stroke-width="1.4"/>
<line x1="478.6" y1="329.5" x2="478.6" y2="332.7" stroke="#4e4e4e" stroke-width="1.3"/>
<line x1="540.4" y1="329.5" x2="540.4" y2="332.7" stroke="#4e4e4e" stroke-width="1.3"/>
<line x1="602.1" y1="329.5" x2="602.1" y2="332.7" stroke="#4e4e4e" stroke-width="1.3"/>
<line x1="663.9" y1="329.5" x2="663.9" y2="332.7" stroke="#4e4e4e" stroke-width="1.3"/>
<line x1="725.7" y1="329.5" x2="725.7" y2="332.7" stroke="#4e4e4e" stroke-width="1.3"/>
<line x1="787.5" y1="329.5" x2="787.5" y2="332.7" stroke="#4e4e4e" stroke-width="1.3"/>
</svg>
<div class="t" style="left:194.7px;top:0.9px">Crude</div>
<div class="t" style="left:580px;top:0px">Adjusted</div>
<div class="yl" style="left:1.1px;top:220.2px;font-size:11.25px">OR with 95% CI</div>
<div class="yl" style="left:400.6px;top:218.2px;font-size:11.25px">OR with 95% CI</div>
<div class="yt" style="left:0.0px;top:255.3px">1</div>
<div class="yt" style="left:0.0px;top:146.3px">2</div>
<div class="yt" style="left:0.0px;top:36.7px">3</div>
<div class="yt" style="left:399.6px;top:256.7px">1</div>
<div class="yt" style="left:399.6px;top:145.7px">2</div>
<div class="yt" style="left:399.6px;top:35.7px">3</div>
<div class="xt" style="left:67.6px;top:336.2px">1</div>
<div class="xt" style="left:129.5px;top:336.2px">2</div>
<div class="xt" style="left:191.4px;top:336.2px">3</div>
<div class="xt" style="left:253.3px;top:336.2px">4</div>
<div class="xt" style="left:315.2px;top:336.2px">5</div>
<div class="xt" style="left:377.1px;top:336.2px">6</div>
<div class="xt" style="left:467.4px;top:334.5px">1</div>
<div class="xt" style="left:529.2px;top:334.5px">2</div>
<div class="xt" style="left:590.9px;top:334.5px">3</div>
<div class="xt" style="left:652.7px;top:334.5px">4</div>
<div class="xt" style="left:714.5px;top:334.5px">5</div>
<div class="xt" style="left:776.3px;top:334.5px">6</div>
<div class="t" style="left:123.3px;top:349.5px;font-size:11.2px">Birth weight (reference = 3.5 kg)</div>
<div class="t" style="left:522.3px;top:348px;font-size:11.2px">Birth weight (reference = 3.5 kg)</div>
<div class="t" style="left:526.7px;top:367px;font-size:10px;line-height:11px">Adjusted for sex, underlying diseases, income and birth year</div>
</div></body></html>
